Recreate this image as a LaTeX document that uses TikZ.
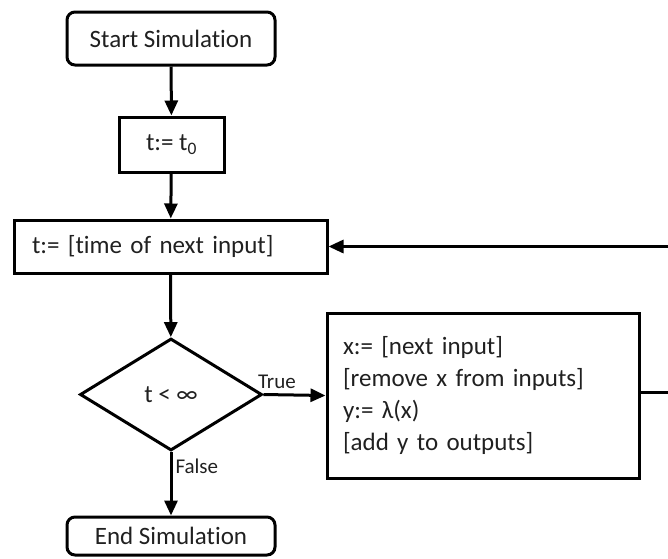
\documentclass[tikz,border=0pt]{standalone}
\usepackage{fontspec}
\setmainfont{Carlito}[Ligatures={NoCommon}]
\usetikzlibrary{shapes.geometric,arrows.meta}
\definecolor{txt}{HTML}{202020}
\tikzset{
  box/.style={draw=black, line width=3pt, inner sep=0pt, font=\fontsize{25}{32}\selectfont, text=txt},
  rbox/.style={box, rounded corners=8pt},
  dia/.style={box, diamond, inner sep=0pt},
  lbl/.style={font=\fontsize{21}{24}\selectfont, text=txt, inner sep=0pt},
  flow/.style={line width=3pt, -{Triangle[length=15pt,width=13pt]}},
}
\begin{document}
\begin{tikzpicture}[x=1pt,y=-1pt]
\clip (0,0) rectangle (668,558);
\useasboundingbox (0,0) rectangle (668,558);
\node[rbox, minimum width=208pt, minimum height=53pt] (start) at (171,38.5) {Start Simulation};
\node[box, minimum width=105pt, minimum height=55pt] (init) at (171.5,144.5) {t:= t\textsubscript{0}};
\node[box, text width=277pt, inner xsep=18pt, align=left, minimum height=53pt] (next) at (170.5,246.5) {t:= [time of next input]};
\node[dia, minimum width=182pt, minimum height=112pt] (test) at (171,394.5) {t < ∞};
\node[box, text width=280pt, inner xsep=16pt, align=left, minimum height=165pt] (act) at (483,395.5) {x:= [next input]\\{}[remove x from inputs]\\y:= λ(x)\\{}[add y to outputs]};
\node[rbox, minimum width=208pt, minimum height=38pt] (end) at (171,536) {End Simulation};
\coordinate (loop) at (690,392);
\draw[flow] (start) -- (init);
\draw[flow] (init) -- (next);
\draw[flow] (next) -- (test);
\draw[flow] (test.east) -- node[lbl, anchor=south west, pos=0, xshift=-7pt, yshift=4pt] {True} (act.west);
\draw[flow] (test.south) -- node[lbl, anchor=west, pos=0.22, xshift=3pt] {False} (end.north);
\draw[flow] (act.east |- loop) -- (loop) |- (next.east);
\end{tikzpicture}
\end{document}
